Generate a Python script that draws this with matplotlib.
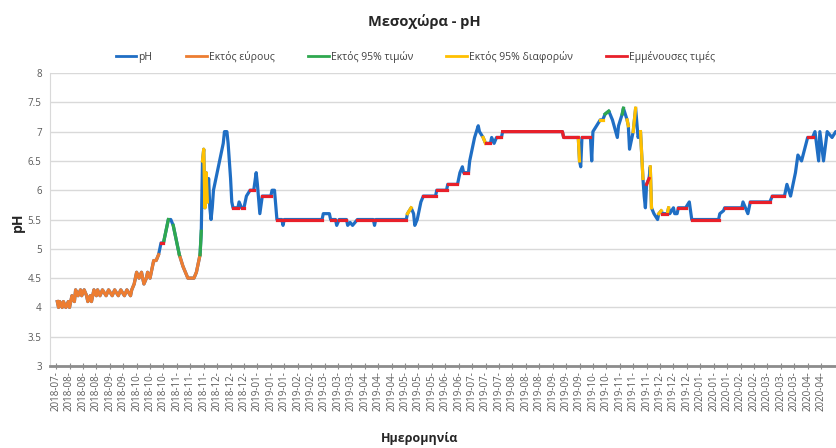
import matplotlib
matplotlib.use("Agg")
import matplotlib.pyplot as plt
from matplotlib.lines import Line2D
import numpy as np
import pandas as pd

plt.rcParams['font.family'] = ['Open Sans', 'DejaVu Sans']

# pH readings at Mesochora (date, value) and the quality flag of the
# segment that starts at each reading:
# b = pH, o = out of range, g = outside 95% of values,
# y = outside 95% of differences, r = persistent values
dates = [
    '2018-07-28', '2018-07-29', '2018-07-30', '2018-08-01', '2018-08-02', '2018-08-04', '2018-08-06', '2018-08-07', '2018-08-09', '2018-08-11',
    '2018-08-12', '2018-08-14', '2018-08-16', '2018-08-17', '2018-08-19', '2018-08-21', '2018-08-22', '2018-08-24', '2018-08-25', '2018-08-27',
    '2018-08-29', '2018-08-30', '2018-09-01', '2018-09-03', '2018-09-06', '2018-09-08', '2018-09-11', '2018-09-13', '2018-09-16', '2018-09-18',
    '2018-09-21', '2018-09-23', '2018-09-26', '2018-09-27', '2018-09-29', '2018-10-01', '2018-10-03', '2018-10-05', '2018-10-07', '2018-10-09',
    '2018-10-10', '2018-10-12', '2018-10-14', '2018-10-15', '2018-10-17', '2018-10-19', '2018-10-20', '2018-10-21', '2018-10-23', '2018-10-27',
    '2018-10-29', '2018-10-31', '2018-11-02', '2018-11-05', '2018-11-08', '2018-11-10', '2018-11-12', '2018-11-17', '2018-11-19', '2018-11-22',
    '2018-11-23', '2018-11-24', '2018-11-25', '2018-11-26', '2018-11-27', '2018-11-28', '2018-11-29', '2018-11-30', '2018-12-01', '2018-12-02',
    '2018-12-03', '2018-12-06', '2018-12-08', '2018-12-11', '2018-12-12', '2018-12-14', '2018-12-15', '2018-12-17', '2018-12-18', '2018-12-19',
    '2018-12-23', '2018-12-24', '2018-12-26', '2018-12-28', '2018-12-30', '2019-01-02', '2019-01-05', '2019-01-07', '2019-01-08', '2019-01-10',
    '2019-01-12', '2019-01-19', '2019-01-20', '2019-01-22', '2019-01-24', '2019-01-28', '2019-01-29', '2019-01-30', '2019-03-02', '2019-03-03',
    '2019-03-08', '2019-03-09', '2019-03-13', '2019-03-14', '2019-03-16', '2019-03-22', '2019-03-23', '2019-03-25', '2019-03-27', '2019-03-31',
    '2019-04-13', '2019-04-14', '2019-04-15', '2019-05-10', '2019-05-11', '2019-05-14', '2019-05-16', '2019-05-17', '2019-05-19', '2019-05-22',
    '2019-05-24', '2019-06-03', '2019-06-04', '2019-06-12', '2019-06-13', '2019-06-21', '2019-06-23', '2019-06-25', '2019-06-26', '2019-06-30',
    '2019-07-01', '2019-07-05', '2019-07-08', '2019-07-09', '2019-07-12', '2019-07-14', '2019-07-18', '2019-07-19', '2019-07-21', '2019-07-23',
    '2019-07-27', '2019-07-28', '2019-09-15', '2019-09-16', '2019-09-28', '2019-09-29', '2019-09-30', '2019-10-01', '2019-10-08', '2019-10-09',
    '2019-10-10', '2019-10-13', '2019-10-16', '2019-10-18', '2019-10-20', '2019-10-23', '2019-10-26', '2019-10-30', '2019-10-31', '2019-11-03',
    '2019-11-04', '2019-11-07', '2019-11-08', '2019-11-09', '2019-11-12', '2019-11-14', '2019-11-16', '2019-11-18', '2019-11-19', '2019-11-20',
    '2019-11-21', '2019-11-22', '2019-11-23', '2019-11-25', '2019-11-26', '2019-11-27', '2019-11-29', '2019-12-02', '2019-12-03', '2019-12-05',
    '2019-12-06', '2019-12-10', '2019-12-11', '2019-12-12', '2019-12-15', '2019-12-16', '2019-12-18', '2019-12-19', '2019-12-25', '2019-12-28',
    '2019-12-30', '2020-01-21', '2020-01-22', '2020-01-25', '2020-01-26', '2020-02-09', '2020-02-10', '2020-02-14', '2020-02-16', '2020-03-03',
    '2020-03-05', '2020-03-15', '2020-03-17', '2020-03-20', '2020-03-24', '2020-03-26', '2020-03-29', '2020-04-03', '2020-04-07', '2020-04-09',
    '2020-04-12', '2020-04-13', '2020-04-16', '2020-04-19', '2020-04-23', '2020-04-26', '2020-05-03',
]

ph = [
    4.1, 4.0, 4.1, 4.0, 4.1, 4.0, 4.1, 4.0, 4.2, 4.1,
    4.3, 4.2, 4.3, 4.2, 4.3, 4.2, 4.1, 4.2, 4.1, 4.3,
    4.2, 4.3, 4.2, 4.3, 4.2, 4.3, 4.2, 4.3, 4.2, 4.3,
    4.2, 4.3, 4.2, 4.3, 4.4, 4.6, 4.5, 4.6, 4.4, 4.5,
    4.6, 4.5, 4.7, 4.8, 4.8, 4.9, 5.0, 5.1, 5.1, 5.5,
    5.5, 5.4, 5.2, 4.9, 4.7, 4.6, 4.5, 4.5, 4.6, 4.9,
    5.3, 6.5, 6.7, 5.7, 6.3, 5.8, 6.2, 5.7, 5.5, 5.7,
    6.0, 6.3, 6.5, 6.8, 7.0, 7.0, 6.8, 6.2, 5.8, 5.7,
    5.7, 5.8, 5.7, 5.7, 5.9, 6.0, 6.0, 6.3, 6.1, 5.6,
    5.9, 5.9, 6.0, 6.0, 5.5, 5.5, 5.4, 5.5, 5.5, 5.6,
    5.6, 5.5, 5.5, 5.4, 5.5, 5.5, 5.4, 5.45, 5.4, 5.5,
    5.5, 5.4, 5.5, 5.5, 5.6, 5.7, 5.6, 5.4, 5.5, 5.8,
    5.9, 5.9, 6.0, 6.0, 6.1, 6.1, 6.3, 6.4, 6.3, 6.3,
    6.5, 6.9, 7.1, 7.0, 6.9, 6.8, 6.8, 6.9, 6.8, 6.9,
    6.9, 7.0, 7.0, 6.9, 6.9, 6.5, 6.4, 6.9, 6.9, 6.5,
    7.0, 7.1, 7.2, 7.2, 7.3, 7.35, 7.2, 6.9, 7.1, 7.3,
    7.4, 7.2, 7.1, 6.7, 7.0, 7.4, 6.9, 7.0, 6.6, 6.2,
    5.9, 5.7, 6.1, 6.2, 6.4, 5.7, 5.6, 5.5, 5.6, 5.65,
    5.6, 5.6, 5.7, 5.6, 5.7, 5.6, 5.6, 5.7, 5.7, 5.8,
    5.5, 5.5, 5.6, 5.65, 5.7, 5.7, 5.8, 5.6, 5.8, 5.8,
    5.9, 5.9, 6.1, 5.9, 6.3, 6.6, 6.5, 6.9, 6.9, 7.0,
    6.5, 7.0, 6.5, 7.0, 6.9, 7.0, 6.9,
]

flags = list(
    'oooooooooo' 'oooooooooo' 'oooooooooo' 'oooooooooo' 'ooooobbrgb'
    'bggoooooog' 'byyyybbbbb' 'bbbbbbbbbr' 'bbrbbrbbbb' 'rbbbrbbrbb'
    'brbbrbbbbr' 'bbrbybbbbb' 'rbrbrbbbrb' 'bbbbyrbbbr' 'brrrybbrbb'
    'bbybgbbbbg' 'bybbybbyyb' 'bbrbybbbyb' 'rybbbbbrbb' 'rbbbrbbbrb'
    'rbbbbbbrbb' 'bbbbbbb'
)

series = ['b', 'o', 'g', 'y', 'r']
labels = ['pH', 'Εκτός εύρους', 'Εκτός 95% τιμών', 'Εκτός 95% διαφορών', 'Εμμένουσες τιμές']
colors = {'b': '#1f6ec4', 'o': '#ed7d31', 'g': '#2fa84f', 'y': '#ffc000', 'r': '#e8202a'}

t = pd.to_datetime(dates)
y = np.array(ph)

fig = plt.figure(figsize=(8.36, 4.48), dpi=100)
ax = fig.add_axes([0.0598, 0.183, 0.953, 0.654])

lw = 2.3
ax.plot(t, y, color=colors['b'], lw=lw, solid_joinstyle='round', zorder=3)

# flagged stretches drawn on top of the full series
for key in series[1:]:
    i = 0
    n = len(flags)
    while i < n:
        if flags[i] == key:
            j = i
            while j < n and flags[j] == key:
                j += 1
            ax.plot(t[i:j + 1], y[i:j + 1], color=colors[key], lw=lw,
                    solid_joinstyle='round', zorder=4)
            i = j
        else:
            i += 1

ax.set_ylim(3, 8)
ax.set_yticks(np.arange(3, 8.01, 0.5))
ax.set_yticklabels(['3', '3.5', '4', '4.5', '5', '5.5', '6', '6.5', '7', '7.5', '8'])
ax.set_xlim(pd.Timestamp('2018-07-22'), pd.Timestamp('2020-05-05'))

ticks = pd.date_range('2018-07-27', '2020-04-20', freq='11D')
ax.set_xticks(ticks)
ax.set_xticklabels([d.strftime('%Y-%m-') for d in ticks], rotation=90)

ax.grid(axis='y', color='#d9d9d9', lw=1.0)
ax.set_axisbelow(True)
for s in ['top', 'right']:
    ax.spines[s].set_visible(False)
ax.spines['left'].set_color('#d9d9d9')
ax.spines['bottom'].set_color('#8c8c8c')
ax.spines['bottom'].set_linewidth(2.0)
ax.tick_params(axis='y', length=0, labelsize=7, labelcolor='#595959', pad=6)
ax.tick_params(axis='x', direction='inout', length=5, width=0.8, color='#8c8c8c',
               labelsize=7, labelcolor='#595959', pad=1)

fig.text(0.508, 0.951, 'Μεσοχώρα - pH', ha='center', va='center',
         fontsize=10.5, fontweight='bold', color='#262626')
fig.text(0.502, 0.022, 'Ημερομηνία', ha='center', va='center',
         fontsize=9, fontweight='bold', color='#262626')
fig.text(0.0215, 0.504, 'pH', ha='center', va='center', rotation=90,
         fontsize=10, fontweight='bold', color='#262626')

handles = [Line2D([], [], color=colors[k], lw=2) for k in series]
fig.legend(handles, labels, loc='center', bbox_to_anchor=(0.497, 0.873), ncol=5,
           frameon=False, fontsize=7.5, handlelength=2.0, handletextpad=0.2,
           columnspacing=3.2, labelcolor='#404040')

fig.savefig('out.png', dpi=100)
